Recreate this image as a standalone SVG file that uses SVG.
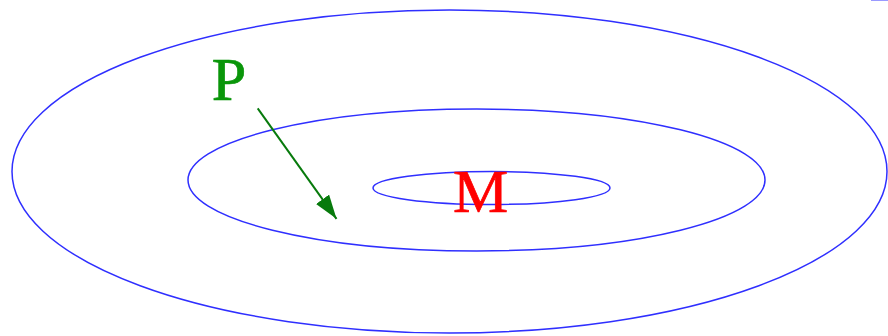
<svg xmlns="http://www.w3.org/2000/svg" width="888" height="336" viewBox="0 0 888 336">
<style>
.contour{fill:none;stroke:#2f2fff;stroke-width:1.5}
.lbl{font-family:"Liberation Serif","Times New Roman",serif;font-size:62px;stroke-width:0.7}
</style>
<defs>
<marker id="ah" markerWidth="26" markerHeight="18" refX="24" refY="8" orient="auto" markerUnits="userSpaceOnUse">
<path d="M0,0 L24,8 L0,16 Z" fill="#077a0c"/>
</marker>
</defs>
<rect width="888" height="336" fill="#fff"/>
<g id="contours">
<ellipse id="outer" class="contour" cx="449.5" cy="171.5" rx="437.5" ry="161.5"/>
<ellipse id="middle" class="contour" cx="476.5" cy="180" rx="288.5" ry="71"/>
<ellipse id="inner" class="contour" cx="491.5" cy="188" rx="118.5" ry="16.5"/>
</g>
<line x1="871" y1="0.5" x2="888" y2="0.5" stroke="#9a9aff" stroke-width="1"/>
<g id="node-M"><text class="lbl" x="480.5" y="211.5" fill="#ff0000" stroke="#ff0000" text-anchor="middle">M</text></g>
<g id="node-P"><text class="lbl" x="229" y="100" fill="#0a960a" stroke="#0a960a" text-anchor="middle">P</text></g>
<g id="connectors">
<line x1="257.7" y1="108.3" x2="336.5" y2="218.8" stroke="#077a0c" stroke-width="2" marker-end="url(#ah)"/>
</g>
</svg>
